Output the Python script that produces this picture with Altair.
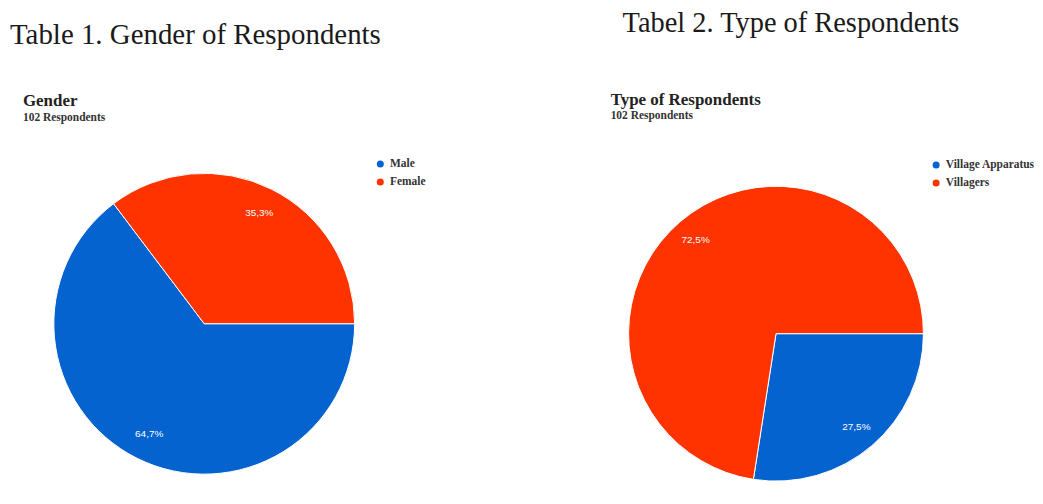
import math
import altair as alt
import pandas as pd

# ---- data ----
gender_cats = ["Male", "Female"]
gender_counts = [66, 36]
type_cats = ["Village Apparatus", "Villagers"]
type_counts = [28, 74]
total = 102

table_titles = ["Table 1. Gender of Respondents", "Tabel 2. Type of Respondents"]
chart_titles = ["Gender", "Type of Respondents"]
chart_subtitles = ["102 Respondents", "102 Respondents"]

colors = ["#0563CF", "#FF3300"]


def pct(v):
    return f"{v / total * 100:.1f}".replace(".", ",") + "%"


def panel(cats, counts, table_title, title, subtitle, cx, cy, r, lab_r,
          tx, ty, tfs, hx, hy, sy, lx, ly, w, h):
    df = pd.DataFrame({
        "cat": cats,
        "n": counts,
        "idx": list(range(len(cats))),
        "lab": [pct(v) for v in counts],
    })
    theta = alt.Theta("n:Q", stack=True,
                      scale=alt.Scale(range=[math.pi / 2, math.pi / 2 + 2 * math.pi]))
    base = alt.Chart(df)
    arcs = base.mark_arc(outerRadius=r, stroke="#ffffff", strokeWidth=1).encode(
        theta=theta,
        order=alt.Order("idx:Q"),
        color=alt.Color("cat:N",
                        scale=alt.Scale(domain=cats, range=colors),
                        legend=alt.Legend(title=None, orient="none",
                                          legendX=lx, legendY=ly,
                                          symbolType="circle", symbolSize=50,
                                          labelFont="Liberation Serif",
                                          labelFontSize=11.5, labelFontWeight="bold",
                                          labelColor="#333333", rowPadding=5,
                                          symbolStrokeWidth=0)),
        x=alt.value(cx), y=alt.value(cy),
    )
    labels = base.mark_text(radius=lab_r, font="Liberation Sans", fontSize=10,
                            color="white").encode(
        theta=theta,
        order=alt.Order("idx:Q"),
        detail="cat:N",
        text="lab:N",
        x=alt.value(cx), y=alt.value(cy),
    )
    t1 = alt.Chart(pd.DataFrame({"t": [table_title]})).mark_text(
        font="Liberation Serif", fontSize=tfs, align="left", baseline="alphabetic",
        color="#1a1a1a").encode(text="t:N", x=alt.value(tx), y=alt.value(ty))
    t2 = alt.Chart(pd.DataFrame({"t": [title]})).mark_text(
        font="Liberation Serif", fontSize=17, fontWeight="bold", align="left",
        baseline="alphabetic", color="#222222").encode(
        text="t:N", x=alt.value(hx), y=alt.value(hy))
    t3 = alt.Chart(pd.DataFrame({"t": [subtitle]})).mark_text(
        font="Liberation Serif", fontSize=11.5, fontWeight="bold", align="left",
        baseline="alphabetic", color="#333333").encode(
        text="t:N", x=alt.value(hx), y=alt.value(sy))
    return alt.layer(arcs, labels, t1, t2, t3).properties(width=w, height=h)


left = panel(gender_cats, gender_counts, table_titles[0], chart_titles[0],
             chart_subtitles[0], cx=197, cy=315, r=151, lab_r=124,
             tx=2, ty=34, tfs=29, hx=15, hy=96, sy=111, lx=368, ly=149, w=515, h=488)
right = panel(type_cats, type_counts, table_titles[1], chart_titles[1],
              chart_subtitles[1], cx=256, cy=325, r=148, lab_r=124,
              tx=102, ty=22, tfs=28.5, hx=90, hy=95, sy=109, lx=411, ly=150, w=512, h=488)

chart = alt.hconcat(left, right, spacing=0).resolve_scale(
    color="independent", theta="independent"
).properties(padding=0).configure_view(stroke=None)

chart.save("out.html", embed_options={"renderer": "svg", "actions": False})
